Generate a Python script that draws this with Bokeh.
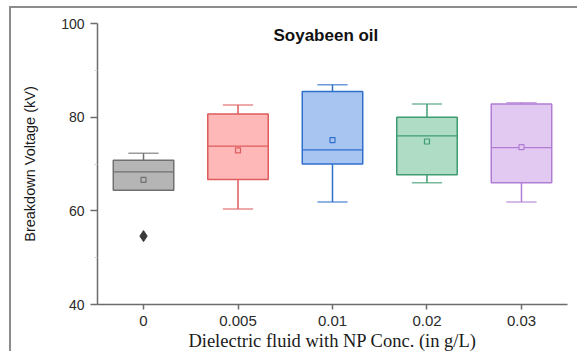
from bokeh.plotting import figure
from bokeh.models import ColumnDataSource, Range1d, FixedTicker, Label
from bokeh.embed import file_html
from bokeh.resources import INLINE

# Breakdown voltage statistics for each nanoparticle concentration
conc_labels = ["0", "0.005", "0.01", "0.02", "0.03"]
whisker_low = [64.4, 60.4, 61.9, 66.0, 61.9]
q1 = [64.4, 66.7, 70.0, 67.7, 66.0]
median = [68.3, 73.8, 73.0, 76.0, 73.5]
q3 = [70.8, 80.7, 85.5, 80.0, 82.8]
whisker_high = [72.3, 82.6, 86.9, 82.8, 83.1]
mean = [66.6, 72.9, 75.1, 74.8, 73.6]
outlier_group = [0]
outlier_value = [54.6]

fill_colors = ["#b5b5b5", "#ffb8b8", "#a8c5f2", "#afdcc5", "#e2c9f2"]
line_colors = ["#707070", "#de5c5c", "#2f6fcc", "#3f9c72", "#b07cd4"]

xs = list(range(len(conc_labels)))
box_half = 0.32
cap_half = 0.16

src = ColumnDataSource(dict(
    x=xs,
    left=[x - box_half for x in xs],
    right=[x + box_half for x in xs],
    cap_l=[x - cap_half for x in xs],
    cap_r=[x + cap_half for x in xs],
    q1=q1, q3=q3, med=median, mean=mean,
    wlo=whisker_low, whi=whisker_high,
    fill=fill_colors, line=line_colors,
))

# lower caps only where a lower whisker exists
lo_idx = [i for i in xs if whisker_low[i] < q1[i]]
lo_src = ColumnDataSource(dict(
    x=[xs[i] for i in lo_idx],
    cap_l=[xs[i] - cap_half for i in lo_idx],
    cap_r=[xs[i] + cap_half for i in lo_idx],
    wlo=[whisker_low[i] for i in lo_idx],
    q1=[q1[i] for i in lo_idx],
    line=[line_colors[i] for i in lo_idx],
))

p = figure(
    width=568, height=345,
    x_range=Range1d(-0.487, 4.487), y_range=Range1d(40, 100),
    output_backend="svg", toolbar_location=None,
    min_border_left=86, min_border_right=12,
    min_border_top=15, min_border_bottom=47,
    margin=(6, 0, 0, 9),
    styles={"border-top": "2px solid #8c8c8c", "border-left": "2px solid #8c8c8c"},
)
p.outline_line_color = None
p.grid.grid_line_color = None
p.background_fill_color = "white"
p.border_fill_color = "white"

# whiskers and caps
p.segment(x0="x", y0="q3", x1="x", y1="whi", line_color="line", line_width=1.5, source=src)
p.segment(x0="cap_l", y0="whi", x1="cap_r", y1="whi", line_color="line", line_width=1.5,
          line_alpha=0.7, source=src)
p.segment(x0="x", y0="wlo", x1="x", y1="q1", line_color="line", line_width=1.5, source=lo_src)
p.segment(x0="cap_l", y0="wlo", x1="cap_r", y1="wlo", line_color="line", line_width=1.5,
          line_alpha=0.7, source=lo_src)

# boxes
p.quad(left="left", right="right", bottom="q1", top="q3", fill_color="fill",
       line_color="line", line_width=1.5, source=src)
# medians
p.segment(x0="left", y0="med", x1="right", y1="med", line_color="line", line_width=1.3, source=src)
# means
p.scatter(x="x", y="mean", marker="square", size=5, fill_color="fill",
          line_color="line", line_width=1.2, source=src)
# outliers
p.scatter(x=outlier_group, y=outlier_value, marker="diamond", size=11,
          fill_color="#3a3a3a", line_color="#3a3a3a")

# axes
p.xaxis.ticker = FixedTicker(ticks=xs)
p.xaxis.major_label_overrides = {i: lab for i, lab in enumerate(conc_labels)}
p.yaxis.ticker = FixedTicker(ticks=[40, 60, 80, 100], minor_ticks=[50, 70, 90])

for ax in (p.xaxis[0], p.yaxis[0]):
    ax.axis_line_color = "#6c6c6c"
    ax.axis_line_width = 1.5
    ax.major_tick_line_color = "#6c6c6c"
    ax.major_tick_line_width = 1.5
    ax.major_tick_in = 0
    ax.major_label_text_font = "Liberation Sans"
    ax.major_label_text_color = "#2a2a2a"

p.yaxis.major_tick_out = 7
p.yaxis.minor_tick_out = 3
p.yaxis.minor_tick_in = 0
p.yaxis.minor_tick_line_color = "#d0d0d0"
p.yaxis.major_label_text_font_size = "14px"
p.yaxis.major_label_standoff = 6
p.xaxis.major_tick_out = 5
p.xaxis.minor_tick_line_color = None
p.xaxis.major_label_text_font_size = "15px"
p.xaxis.major_label_standoff = 6

p.yaxis.axis_label = "Breakdown Voltage (kV)"
p.yaxis.axis_label_text_font = "Liberation Sans"
p.yaxis.axis_label_text_font_style = "normal"
p.yaxis.axis_label_text_font_size = "14.5px"
p.yaxis.axis_label_text_color = "#1a1a1a"
p.yaxis.axis_label_standoff = 20

p.xaxis.axis_label = "Dielectric fluid with NP Conc. (in g/L)"
p.xaxis.axis_label_text_font = "Liberation Serif"
p.xaxis.axis_label_text_font_style = "normal"
p.xaxis.axis_label_text_font_size = "18.5px"
p.xaxis.axis_label_text_color = "#1a1a1a"
p.xaxis.axis_label_standoff = 2

p.add_layout(Label(x=1.93, y=97.5, text="Soyabeen oil", text_align="center",
                   text_baseline="middle", text_font="Liberation Sans",
                   text_font_style="bold", text_font_size="17px", text_color="#111111"))

open("out.html", "w").write(file_html(p, INLINE))
